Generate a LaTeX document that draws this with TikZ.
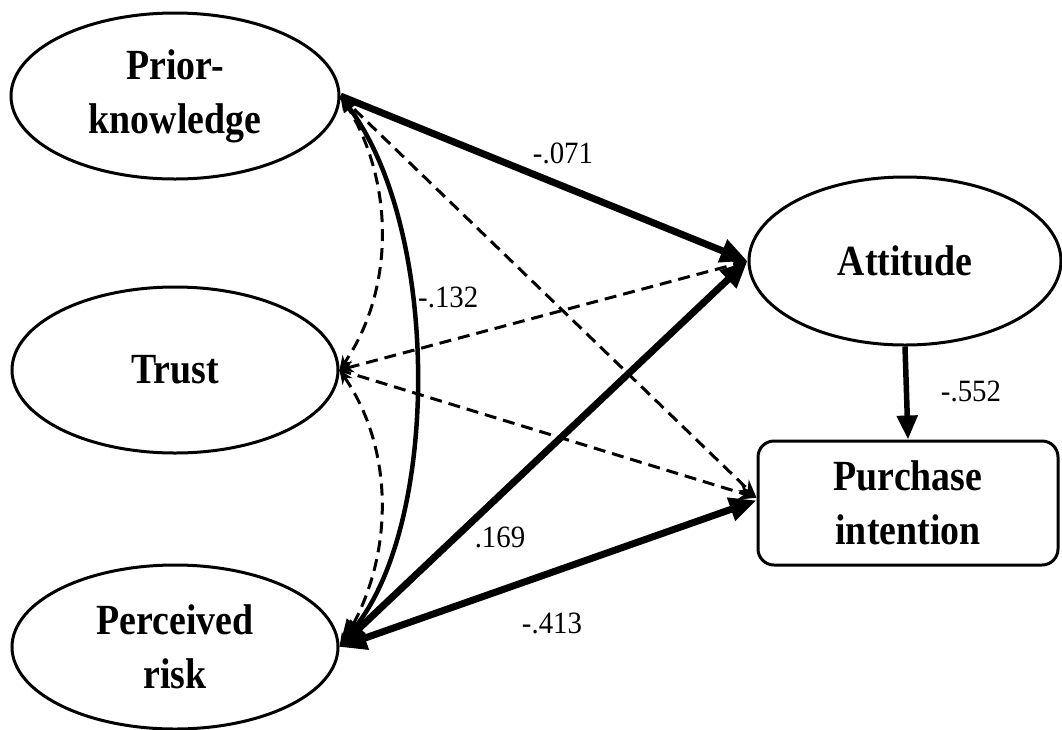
\documentclass[tikz,border=0pt]{standalone}
\usepackage{fontspec}
\setmainfont{Liberation Serif}
\newfontfamily\nodefont[FakeStretch=0.88]{Liberation Serif}
\newfontfamily\lblfont[FakeStretch=0.93]{Liberation Serif}
\usetikzlibrary{shapes.geometric,arrows.meta}
\begin{document}
\begin{tikzpicture}[x=1pt,y=-1pt,
  latent/.style={ellipse,draw,line width=3pt,inner sep=0pt,align=center,
    font=\nodefont\bfseries\fontsize{43}{54}\selectfont},
  observed/.style={rectangle,draw,line width=3pt,rounded corners=16pt,inner sep=0pt,
    align=center,minimum width=300pt,minimum height=124pt,
    font=\nodefont\bfseries\fontsize{43}{54}\selectfont},
  lbl/.style={font=\lblfont\fontsize{31}{31}\selectfont,inner sep=0pt},
  thickarr/.style={line width=7pt,-{Triangle[length=27pt,width=23pt]}},
  thickboth/.style={line width=7pt,{Triangle[length=27pt,width=23pt]}-{Triangle[length=27pt,width=23pt]}},
  dasharr/.style={line width=3pt,dash pattern=on 12pt off 7pt},
]
\useasboundingbox (0,0) rectangle (1062,729);
\fill[white] (0,0) rectangle (1062,729);

\node[latent,minimum width=328pt,minimum height=166pt] (pk) at (175,96) {Prior-\\knowledge};
\node[latent,minimum width=326pt,minimum height=166pt] (trust) at (175,370) {Trust};
\node[latent,minimum width=326pt,minimum height=164pt] (pr) at (175,647) {Perceived\\risk};
\node[latent,minimum width=312pt,minimum height=168pt] (att) at (905,261) {Attitude};
\node[observed] (pi) at (908,503) {Purchase\\intention};

% covariances
\draw[line width=4.5pt,{Triangle[length=16pt,width=14pt]}-{Triangle[length=27pt,width=23pt]}]
  (pk.east) .. controls (440,230) and (440,520) .. (pr.east);
\draw[dasharr,{Stealth[length=14pt,width=12pt]}-{Stealth[length=14pt,width=12pt]}]
  (pk.east) .. controls (395,180) and (395,290) .. (trust.east);
\draw[dasharr,{Stealth[length=14pt,width=12pt]}-{Stealth[length=14pt,width=12pt]}]
  (trust.east) .. controls (395,450) and (395,560) .. (pr.east);

% dashed paths
\draw[dasharr,-{Stealth[length=18pt,width=15pt]}] (pk.east) -- (pi.178);
\draw[dasharr,{Stealth[length=14pt,width=12pt]}-{Stealth[length=18pt,width=15pt]}] (trust.east) -- (att.west);
\draw[dasharr,-{Stealth[length=18pt,width=15pt]}] (trust.east) -- (pi.178);

% thick paths
\draw[thickarr] (pk.east) -- (att.west);
\draw[thickboth] (pr.east) -- (att.west);
\draw[thickboth] (pr.east) -- (pi.179);
\draw[line width=5.5pt,-{Triangle[length=24pt,width=20pt]}] (att.south) -- (pi.north);

% labels
\node[lbl] (l071) at (563,153) {-.071};
\node[lbl,anchor=west] (l132) at (418,297) {-.132};
\node[lbl] (l169) at (500,537) {.169};
\node[lbl] (l413) at (552,623) {-.413};
\node[lbl] (l552) at (971,391) {-.552};
\end{tikzpicture}
\end{document}
